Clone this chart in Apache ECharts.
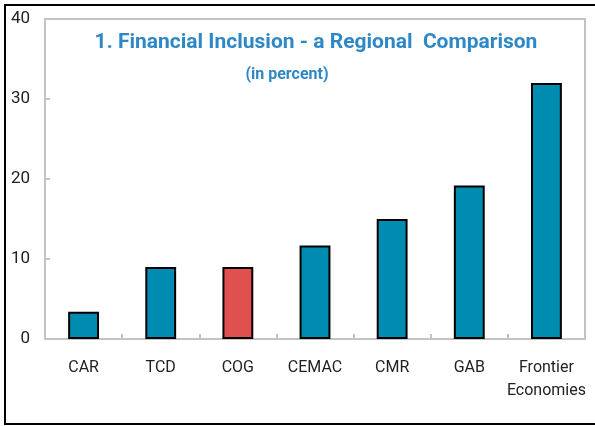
<!DOCTYPE html>
<html>
<head>
<meta charset="utf-8">
<script src="https://cdn.jsdelivr.net/npm/echarts@6/dist/echarts.min.js"></script>
<style>
  html, body { margin: 0; padding: 0; background: #fff; }
  #chart { width: 595px; height: 426px; }
</style>
</head>
<body>
<div id="chart"></div>
<script>
const categories = ['CAR', 'TCD', 'COG', 'CEMAC', 'CMR', 'GAB', 'Frontier\nEconomies']
const values = [3.4, 9.0, 9.0, 11.7, 15.0, 19.2, 32.0]
const highlight = 'COG'
const yTicks = [0, 10, 20, 30, 40]

const font = 'Roboto, "Noto Sans", sans-serif'
const blue = '#008bb0'
const red = '#e0504e'

const myChart = echarts.init(document.getElementById('chart'))

const option = {
  backgroundColor: '#fff',
  animation: false,
  title: [
    {
      text: '1. Financial Inclusion - a Regional  Comparison',
      left: 316,
      textAlign: 'center',
      top: 32,
      padding: 0,
      textStyle: { color: '#2e88c6', fontFamily: font, fontWeight: 'bold', fontSize: 21 }
    },
    {
      text: '(in percent)',
      left: 287,
      textAlign: 'center',
      top: 67,
      padding: 0,
      textStyle: { color: '#2e88c6', fontFamily: font, fontWeight: 'bold', fontSize: 16 }
    }
  ],
  graphic: [
    {
      type: 'rect',
      shape: { x: 5, y: 5, width: 600, height: 419 },
      style: { fill: 'none', stroke: '#000', lineWidth: 2 },
      silent: true
    }
  ],
  grid: {
    left: 45,
    right: 10,
    top: 19,
    bottom: 87,
    show: true,
    borderColor: '#c3c3c3',
    borderWidth: 2
  },
  xAxis: {
    type: 'category',
    data: categories,
    axisLine: { lineStyle: { color: '#c3c3c3', width: 2 } },
    axisTick: { show: true, inside: true, length: 5, lineStyle: { color: '#c3c3c3', width: 2 } },
    axisLabel: {
      color: '#222',
      fontFamily: font,
      fontSize: 16,
      margin: 17,
      lineHeight: 23,
      interval: 0
    }
  },
  yAxis: {
    type: 'value',
    min: yTicks[0],
    max: yTicks[yTicks.length - 1],
    interval: 10,
    splitLine: { show: false },
    axisLine: { show: true, lineStyle: { color: '#c3c3c3', width: 2 } },
    axisTick: { show: true, inside: true, length: 5, lineStyle: { color: '#c3c3c3', width: 2 } },
    axisLabel: { color: '#222', fontFamily: font, fontSize: 17, margin: 15 }
  },
  series: [
    {
      type: 'bar',
      barWidth: '40%',
      data: values.map((v, i) => ({
        value: v,
        itemStyle: { color: categories[i] === highlight ? red : blue }
      })),
      itemStyle: { borderColor: '#000', borderWidth: 2 }
    }
  ]
}
option && myChart.setOption(option)
</script>
</body>
</html>
